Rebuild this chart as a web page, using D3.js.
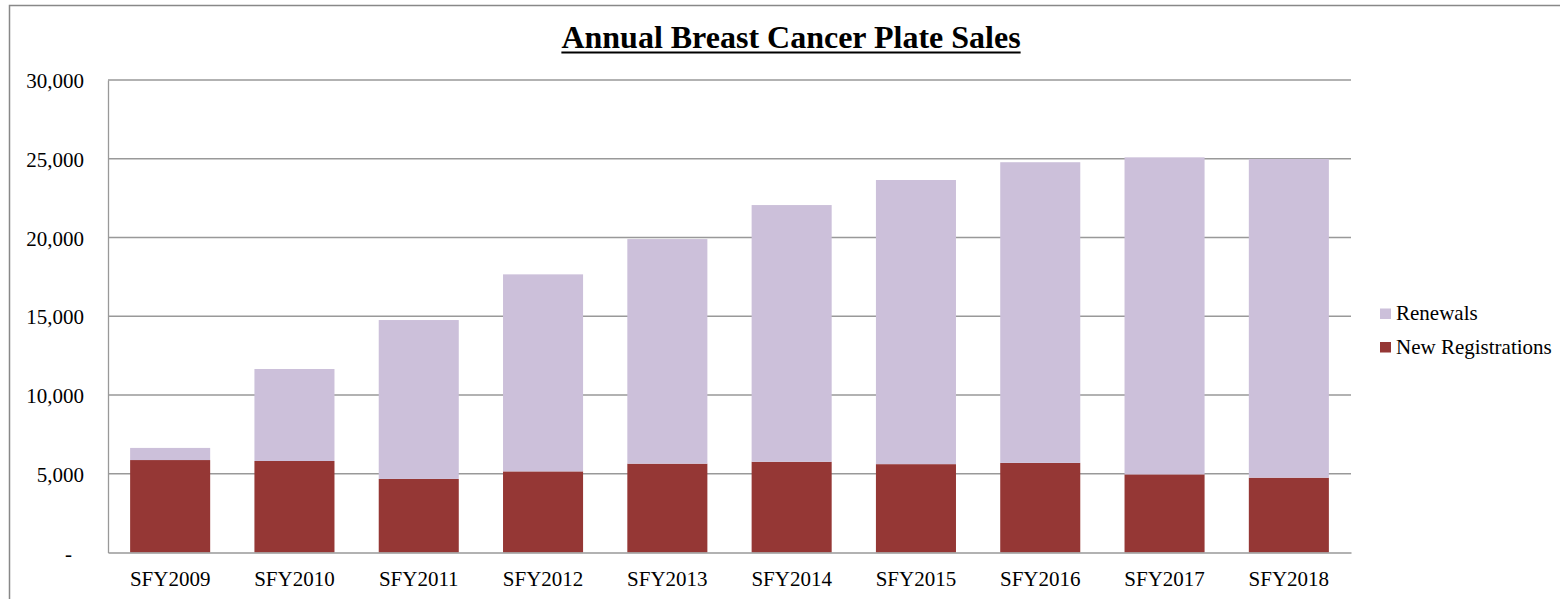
<!DOCTYPE html>
<html>
<head>
<meta charset="utf-8">
<script src="https://cdn.jsdelivr.net/npm/d3@7"></script>
<style>
  html, body { margin: 0; padding: 0; background: #fff; }
  svg { display: block; }
  text { font-family: "Liberation Serif", "Times New Roman", serif; fill: #000; }
</style>
</head>
<body>
<svg id="chart" width="1560" height="599"></svg>
<script>
const categories = ["SFY2009","SFY2010","SFY2011","SFY2012","SFY2013","SFY2014","SFY2015","SFY2016","SFY2017","SFY2018"];
const newRegistrations = [5870, 5810, 4670, 5150, 5640, 5760, 5610, 5690, 4960, 4750];
const renewals = [770, 5840, 10090, 12510, 14260, 16300, 18040, 19090, 20130, 20240];
const yTicks = [0, 5000, 10000, 15000, 20000, 25000, 30000];
const seriesNames = ["Renewals", "New Registrations"];
const seriesColors = ["#CCC0DA", "#953735"];

const svg = d3.select("#chart");
const plot = {left: 108, right: 1351, top: 80, bottom: 552.5};

// outer chart border
svg.append("rect").attr("x", 9.5).attr("y", 5.5).attr("width", 1700).attr("height", 800)
  .attr("fill", "none").attr("stroke", "#888").attr("stroke-width", 1.5);

const x = d3.scaleBand().domain(categories).range([plot.left, plot.right])
  .paddingInner(0.356).paddingOuter(0.178);
const y = d3.scaleLinear().domain([0, 30000]).range([plot.bottom, plot.top]);

// gridlines
svg.append("g").selectAll("line").data(yTicks.filter(d => d > 0)).join("line")
  .attr("x1", plot.left).attr("x2", plot.right)
  .attr("y1", d => y(d)).attr("y2", d => y(d))
  .attr("stroke", "#999").attr("stroke-width", 1.3);

// stacked bars
const rows = categories.map((c, i) => ({cat: c, newReg: newRegistrations[i], renew: renewals[i]}));
const stack = d3.stack().keys(["newReg", "renew"]);
const stacked = stack(rows);
const colorByKey = {newReg: seriesColors[1], renew: seriesColors[0]};
svg.append("g").selectAll("g").data(stacked).join("g")
  .attr("fill", d => colorByKey[d.key])
  .selectAll("rect").data(d => d).join("rect")
  .attr("x", d => x(d.data.cat))
  .attr("width", x.bandwidth())
  .attr("y", d => y(d[1]))
  .attr("height", d => y(d[0]) - y(d[1]));

// axes
const yAxis = d3.axisLeft(y).tickValues(yTicks).tickSize(0).tickPadding(24)
  .tickFormat(d => d === 0 ? "-" : d3.format(",")(d));
const gy = svg.append("g").attr("transform", `translate(${plot.left},0)`).call(yAxis);
gy.select(".domain").attr("stroke", "#999").attr("stroke-width", 1.3);
gy.selectAll("text").attr("font-size", 21).attr("font-family", "Liberation Serif, Times New Roman, serif")
  .attr("dy", "0.36em")
  .attr("x", d => d === 0 ? -36 : -24);

const xAxis = d3.axisBottom(x).tickSize(0).tickPadding(20);
const gx = svg.append("g").attr("transform", `translate(0,${plot.bottom})`).call(xAxis);
gx.select(".domain").attr("stroke", "#999").attr("stroke-width", 1.3);
gx.selectAll("text").attr("font-size", 21).attr("font-family", "Liberation Serif, Times New Roman, serif")
  .attr("dy", "0.62em");

// title
const title = svg.append("text").attr("x", 791).attr("y", 47.5)
  .attr("text-anchor", "middle").attr("font-size", 32).attr("font-weight", "bold")
  .text("Annual Breast Cancer Plate Sales");
const tw = title.node().getComputedTextLength();
svg.append("line").attr("x1", 791 - tw / 2).attr("x2", 791 + tw / 2)
  .attr("y1", 52.5).attr("y2", 52.5).attr("stroke", "#000").attr("stroke-width", 2);

// legend
const legend = svg.append("g");
const legY = [308.5, 342];
seriesNames.forEach((name, i) => {
  legend.append("rect").attr("x", 1380).attr("y", legY[i]).attr("width", 11).attr("height", 10.5)
    .attr("fill", seriesColors[i]);
  legend.append("text").attr("x", 1396).attr("y", legY[i] + 11.5).attr("font-size", 21).text(name);
});
</script>
</body>
</html>
